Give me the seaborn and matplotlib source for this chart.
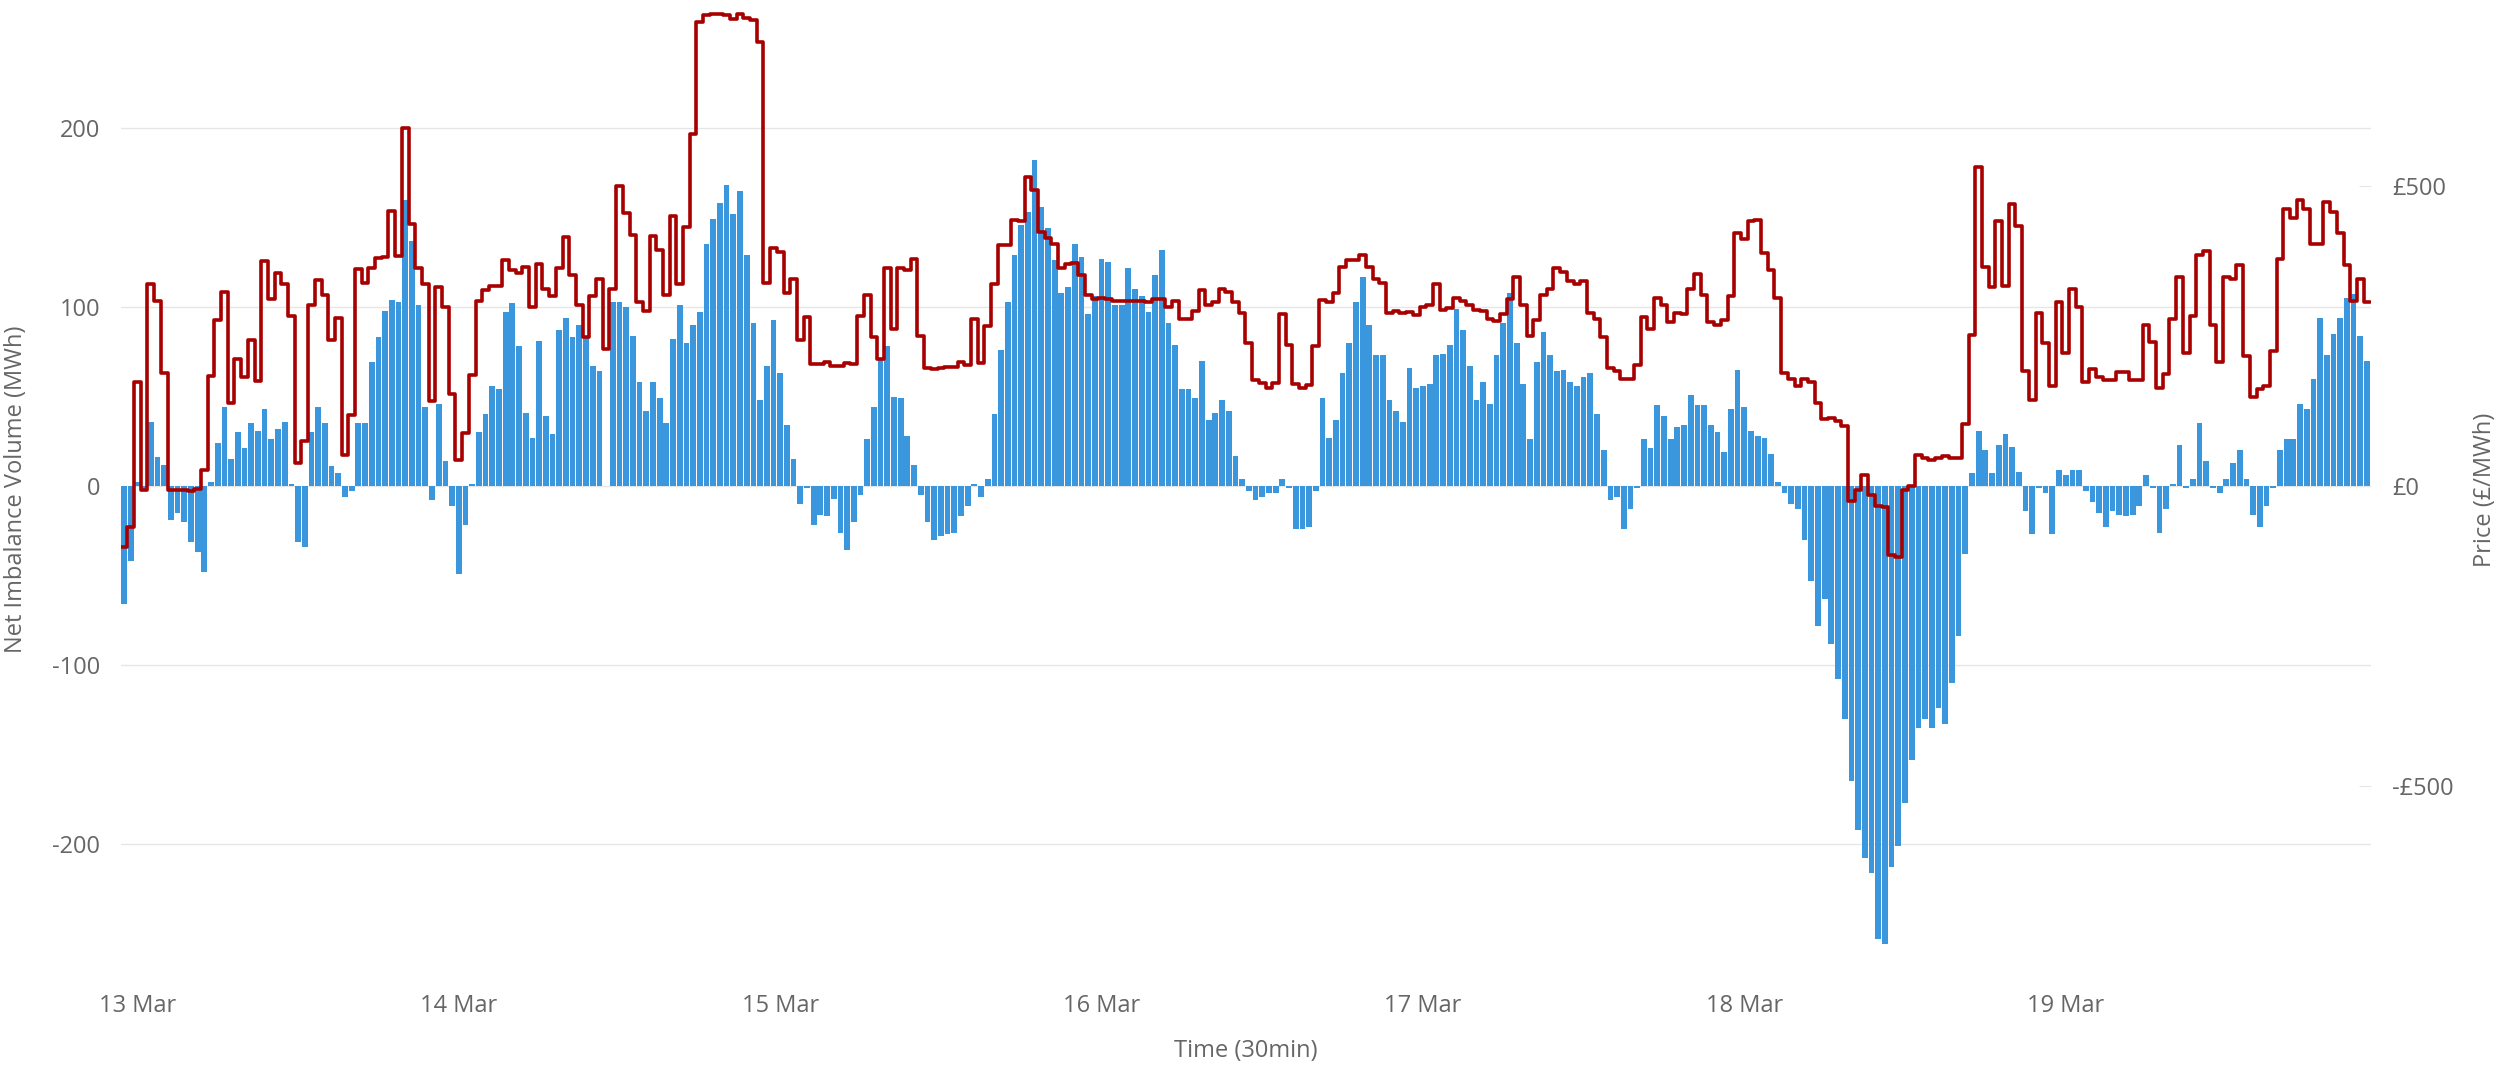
import numpy as np
import pandas as pd
import matplotlib
matplotlib.use('Agg')
import matplotlib.pyplot as plt
import seaborn as sns

# half-hourly periods, first one starts 12 Mar 23:00, so 13 Mar 00:00 is period 2
day_labels = ['13 Mar', '14 Mar', '15 Mar', '16 Mar', '17 Mar', '18 Mar', '19 Mar']
first_midnight = 2

# net imbalance volume (MWh)
volume = [
    -66, -42, 2, -3, 36, 16, 12, -19, -15, -20, -31, -37,
    -48, 2, 24, 44, 15, 30, 21, 35, 31, 43, 26, 32,
    36, 1, -31, -34, 30, 44, 35, 11, 7, -6, -3, 35,
    35, 69, 83, 98, 104, 103, 160, 137, 101, 44, -8, 46,
    14, -11, -49, -22, 1, 30, 40, 56, 54, 97, 102, 78,
    41, 27, 81, 39, 29, 87, 94, 83, 90, 84, 67, 64,
    0, 103, 103, 100, 84, 58, 42, 58, 49, 35, 82, 101,
    80, 90, 97, 135, 149, 158, 168, 152, 165, 129, 91, 48,
    67, 93, 63, 34, 15, -10, -1, -22, -16, -17, -7, -26,
    -36, -20, -5, 26, 44, 71, 78, 50, 49, 28, 12, -5,
    -20, -30, -28, -27, -26, -17, -11, 1, -6, 4, 40, 76,
    103, 129, 146, 153, 182, 156, 144, 126, 108, 111, 135, 128,
    96, 106, 127, 125, 101, 101, 122, 110, 106, 97, 118, 132,
    91, 79, 54, 54, 49, 70, 37, 41, 48, 42, 17, 4,
    -3, -8, -6, -4, -4, 4, -1, -24, -24, -23, -3, 49,
    27, 37, 63, 80, 103, 117, 90, 73, 73, 48, 42, 36,
    66, 55, 56, 57, 73, 74, 79, 99, 87, 67, 48, 58,
    46, 73, 91, 108, 80, 57, 26, 69, 86, 73, 64, 65,
    58, 56, 61, 63, 40, 20, -8, -6, -24, -13, -1, 26,
    21, 45, 39, 26, 33, 34, 51, 45, 45, 34, 30, 19,
    43, 65, 44, 31, 28, 27, 18, 2, -4, -10, -13, -30,
    -53, -78, -63, -88, -108, -130, -165, -192, -208, -216, -253, -256,
    -213, -201, -177, -153, -135, -130, -135, -124, -133, -110, -84, -38,
    7, 31, 20, 7, 23, 29, 22, 8, -14, -27, -1, -4,
    -27, 9, 6, 9, 9, -3, -9, -15, -23, -14, -16, -17,
    -16, -11, 6, -1, -26, -13, 1, 23, -1, 4, 35, 14,
    -1, -4, 4, 13, 20, 4, -16, -23, -11, -1, 20, 26,
    26, 46, 43, 60, 94, 73, 85, 94, 105, 107, 84, 70,
]

# imbalance price (GBP/MWh)
price = [
    -102, -68, 174, -7, 336, 309, 189, -7, -7, -7, -9, -5,
    27, 184, 276, 324, 139, 211, 181, 243, 175, 375, 311, 355,
    337, 283, 39, 75, 301, 343, 318, 243, 280, 52, 119, 362,
    338, 364, 380, 382, 459, 383, 596, 437, 364, 337, 141, 332,
    298, 154, 44, 88, 185, 309, 327, 333, 334, 376, 360, 355,
    365, 299, 370, 329, 316, 363, 415, 352, 301, 248, 316, 345,
    229, 329, 500, 455, 419, 307, 292, 416, 394, 319, 450, 337,
    431, 586, 773, 785, 786, 786, 785, 778, 786, 780, 776, 740,
    339, 396, 390, 321, 345, 243, 282, 204, 204, 207, 200, 200,
    205, 204, 284, 318, 249, 212, 364, 262, 363, 360, 378, 250,
    197, 195, 196, 199, 199, 207, 201, 278, 205, 267, 337, 401,
    401, 444, 441, 515, 494, 424, 413, 404, 364, 370, 372, 352,
    319, 311, 314, 311, 309, 309, 309, 309, 309, 307, 311, 311,
    299, 309, 278, 278, 292, 326, 302, 306, 328, 323, 307, 288,
    238, 176, 171, 164, 172, 286, 235, 170, 164, 169, 234, 310,
    307, 321, 365, 377, 377, 385, 365, 345, 339, 288, 292, 288,
    290, 285, 299, 301, 336, 294, 297, 314, 309, 301, 294, 291,
    278, 275, 286, 311, 348, 301, 250, 276, 318, 329, 364, 357,
    342, 337, 341, 288, 278, 248, 197, 191, 179, 179, 202, 281,
    261, 314, 302, 273, 288, 286, 329, 354, 319, 273, 268, 276,
    317, 421, 411, 441, 443, 388, 360, 314, 189, 179, 166, 179,
    173, 139, 111, 113, 109, 100, -25, -7, 18, -15, -33, -35,
    -116, -119, -7, 0, 52, 47, 44, 47, 50, 46, 47, 103,
    251, 531, 365, 332, 441, 334, 470, 433, 192, 144, 288, 238,
    166, 307, 222, 329, 299, 173, 195, 181, 176, 176, 190, 190,
    176, 176, 268, 240, 164, 187, 278, 348, 222, 283, 385, 392,
    268, 207, 348, 345, 368, 217, 148, 161, 166, 225, 378, 462,
    446, 477, 462, 403, 404, 474, 457, 421, 368, 309, 345, 307,
]

assert len(volume) == len(price) == 336

BLUE = '#3a96dd'
RED = '#a80000'
GREY = '#666666'
GRID = '#e6e6e6'

df = pd.DataFrame({'period': np.arange(len(volume)), 'volume': volume, 'price': price})

sns.set_theme(style='white')
plt.rcParams['font.family'] = ['Open Sans', 'DejaVu Sans']

W, H = 2496, 1067
fig = plt.figure(figsize=(W / 100, H / 100), dpi=100)
ax = fig.add_axes([121 / W, 88 / H, 2250 / W, 979 / H])

sns.barplot(data=df, x='period', y='volume', color=BLUE, saturation=1,
            width=0.86, errorbar=None, linewidth=0, ax=ax)

# price as a step line covering the whole half hour of each period
steps = pd.DataFrame({
    'x': np.append(df['period'] - 0.5, len(df) - 0.5),
    'price': np.append(df['price'], df['price'].iloc[-1]),
})
ax2 = ax.twinx()
sns.lineplot(data=steps, x='x', y='price', ax=ax2, color=RED, lw=2.6,
             drawstyle='steps-post', estimator=None)

ax.set_xlim(-0.45, len(df) - 0.4)
ax.set_ylim(-275.4, 271.5)
ax2.set_ylim(-822, 810)

ax.set_yticks([-200, -100, 0, 100, 200])
ax.set_yticklabels(['-200', '-100', '0', '100', '200'])
ax.grid(axis='y', color=GRID, lw=1)
ax.grid(axis='x', visible=False)
ax.set_axisbelow(True)

ax.set_xticks(range(first_midnight, len(df), 48))
ax.set_xticklabels(day_labels)

ax2.set_yticks([-500, 0, 500])
ax2.set_yticklabels(['-£500', '£0', '£500'])
ax2.grid(False)

for a in (ax, ax2):
    for s in a.spines.values():
        s.set_visible(False)

ax.tick_params(axis='x', length=0, pad=11, labelsize=17, labelcolor=GREY)
ax.tick_params(axis='y', length=0, pad=15, labelsize=17, labelcolor=GREY)
ax2.tick_params(axis='y', direction='in', length=8.6, width=0.8, color=GRID,
                pad=15, labelsize=17, labelcolor=GREY)

ax.set_xlabel('Time (30min)', fontsize=17, color=GREY)
ax.set_ylabel('Net Imbalance Volume (MWh)', fontsize=17, color=GREY)
ax2.set_ylabel('Price (£/MWh)', fontsize=17, color=GREY)
ax.xaxis.set_label_coords(0.5, -0.061)
ax.yaxis.set_label_coords(-0.0413, 0.5)
ax2.yaxis.set_label_coords(1.0453, 0.5)

fig.savefig('out.png', dpi=100)
